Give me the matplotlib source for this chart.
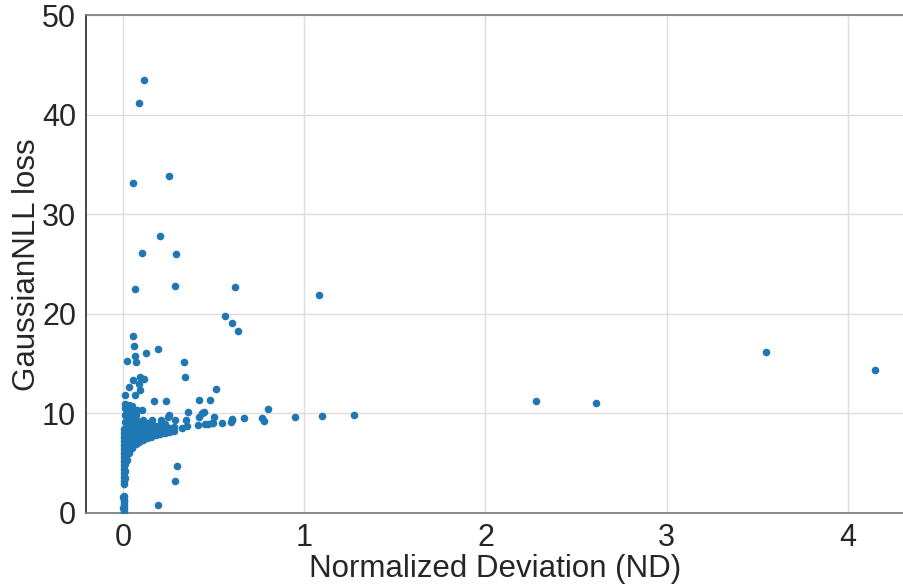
import matplotlib
matplotlib.use("Agg")
import matplotlib.pyplot as plt

# dense cluster near ND = 0 (read column by column)
cluster_x = (
    [0.003] * 21 + [0.01] * 12 + [0.02] * 10 + [0.035] * 10 + [0.05] * 9
    + [0.07] * 7 + [0.09] * 5 + [0.11] * 5 + [0.13] * 4 + [0.155] * 4
    + [0.18] * 3 + [0.205] * 3 + [0.23] * 3 + [0.255] * 2 + [0.28] * 2
)
cluster_y = [
    0.0, 0.3, 0.6, 0.9, 1.3, 1.7, 2.9, 3.2, 3.6, 4.0, 4.4, 4.8, 5.2, 5.6, 6.0, 6.4, 6.8, 7.2, 7.6, 8.0, 8.4,
    3.5, 4.2, 4.9, 5.6, 6.3, 7.0, 7.7, 8.4, 9.1, 9.8, 10.5, 11.0,
    5.3, 5.9, 6.5, 7.1, 7.7, 8.3, 8.9, 9.5, 10.1, 10.7,
    6.0, 6.5, 7.0, 7.5, 8.0, 8.5, 9.0, 9.6, 10.2, 10.9,
    6.5, 7.0, 7.5, 8.0, 8.5, 9.0, 9.5, 10.0, 10.8,
    6.9, 7.3, 7.8, 8.3, 8.8, 9.3, 9.8,
    7.1, 7.6, 8.1, 8.6, 9.1,
    7.3, 7.8, 8.3, 8.8, 9.3,
    7.5, 8.0, 8.5, 9.0,
    7.65, 8.1, 8.6, 9.1,
    7.8, 8.2, 8.7,
    7.9, 8.3, 8.8,
    8.0, 8.4, 8.9,
    8.1, 8.5,
    8.2, 8.6,
]

# scattered points
outer_x = [
    0.114, 0.085, 0.053, 0.254, 0.206, 0.105, 0.292, 0.068, 0.289, 0.616,
    1.082, 0.565, 0.600, 0.633, 0.057, 0.059, 0.190, 0.129, 0.068, 0.024,
    0.072, 0.337, 0.340, 0.092, 0.114, 0.057, 0.085, 0.035, 0.092, 0.511,
    0.011, 0.064, 0.173, 0.236, 0.421, 0.480, 0.028, 0.039, 0.075, 0.107,
    0.360, 0.420, 0.447, 0.254, 0.502, 0.545, 0.600, 0.348, 0.158, 0.210,
    0.287, 0.596, 0.602, 0.666, 0.767, 0.780, 0.802, 0.951, 1.100, 1.277,
    0.245, 0.326, 0.353, 0.269, 0.414, 0.453, 0.470, 0.495, 0.434, 0.490,
    0.298, 0.287, 0.190, 0.002, 0.004, 0.001,
    2.28, 2.61, 3.55, 4.15,
]
outer_y = [
    43.55, 41.2, 33.2, 33.9, 27.8, 26.1, 26.0, 22.5, 22.8, 22.7,
    21.9, 19.8, 19.1, 18.3, 17.8, 16.8, 16.5, 16.1, 15.8, 15.25,
    15.15, 15.15, 13.7, 13.7, 13.5, 13.4, 12.95, 12.65, 12.35, 12.5,
    11.85, 11.85, 11.3, 11.3, 11.4, 11.4, 10.6, 10.5, 10.35, 10.35,
    10.1, 9.6, 10.1, 9.85, 9.6, 9.0, 9.35, 9.35, 9.3, 9.35,
    9.3, 9.1, 9.45, 9.55, 9.55, 9.25, 10.4, 9.65, 9.75, 9.85,
    9.65, 8.5, 8.7, 8.2, 8.8, 8.9, 8.95, 9.05, 10.0, 9.0,
    4.75, 3.2, 0.8, 1.6, 1.2, 0.5,
    11.3, 11.1, 16.2, 14.4,
]

x = cluster_x + outer_x
y = cluster_y + outer_y

plt.rcParams["font.family"] = ["Liberation Sans", "DejaVu Sans"]

fig = plt.figure(figsize=(9.04, 5.84), dpi=100)
ax = fig.add_axes([0.0951, 0.1216, 0.9049, 0.852])

ax.scatter(x, y, s=30, color="#1f77b4", linewidths=0, zorder=3)

ax.set_xlim(-0.205, 4.31)
ax.set_ylim(0, 50)
ax.set_xticks([0, 1, 2, 3, 4])
ax.set_yticks([0, 10, 20, 30, 40, 50])
ax.grid(True, color="#dddddd", linewidth=1.0)
ax.set_axisbelow(True)
ax.tick_params(length=0, labelsize=22, labelcolor="#262626", pad=7)

ax.spines["left"].set_color("#262626")
ax.spines["bottom"].set_color("#777777")
ax.spines["top"].set_color("#777777")
ax.spines["right"].set_visible(False)
for s in ["left", "bottom", "top"]:
    ax.spines[s].set_linewidth(1.2)

ax.set_xlabel("Normalized Deviation (ND)", fontsize=22.5, color="#262626", labelpad=1)
ax.set_ylabel("GaussianNLL loss", fontsize=22.5, color="#262626", labelpad=0)

fig.savefig("out.png", dpi=100)
